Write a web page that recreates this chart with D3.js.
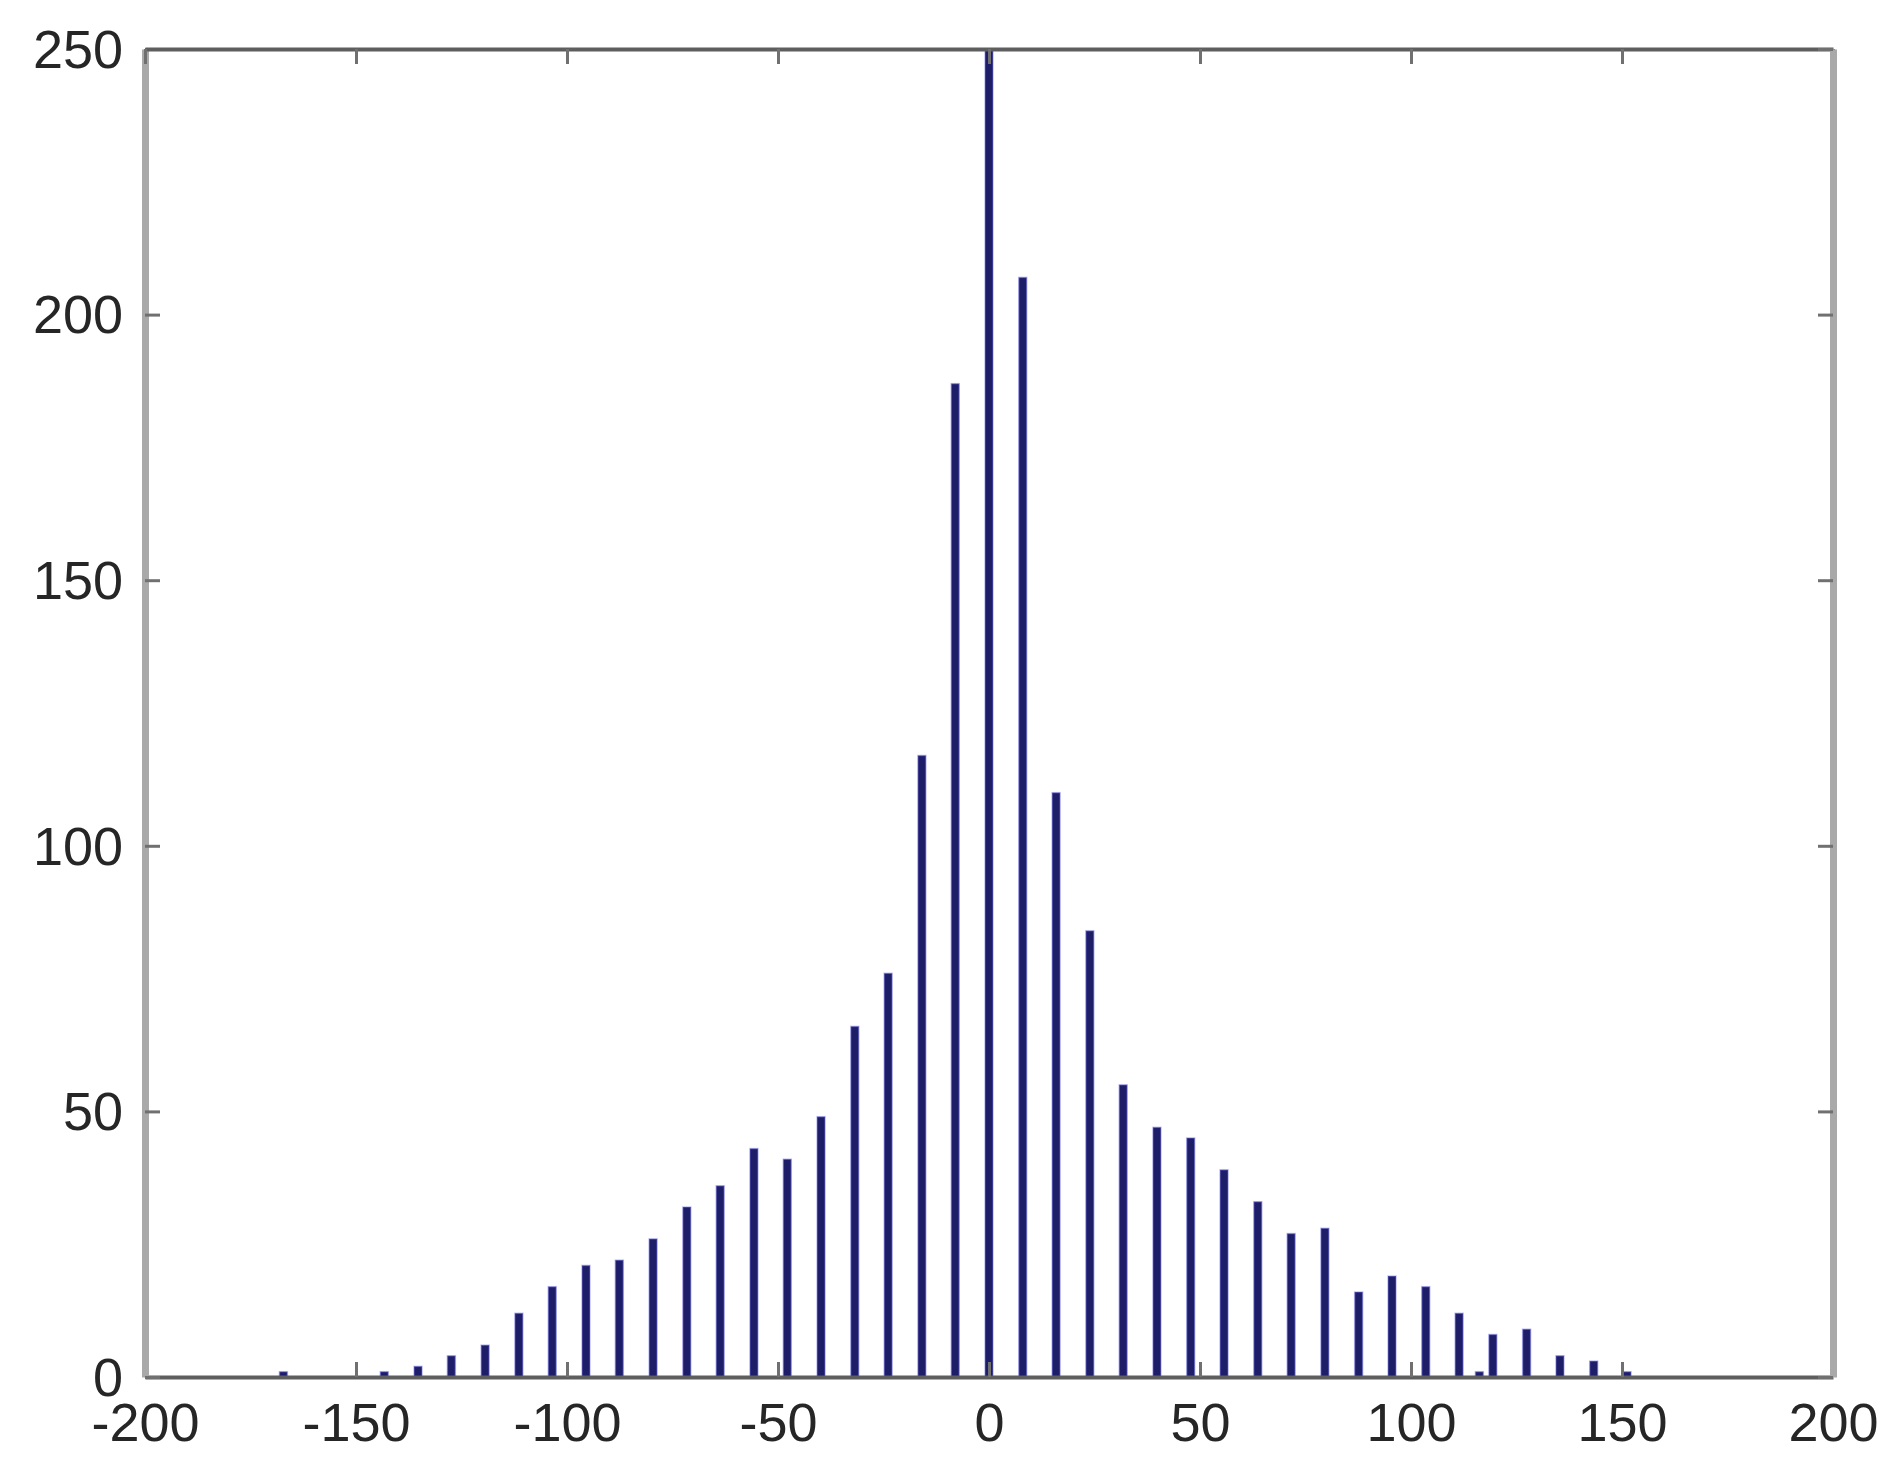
<!DOCTYPE html>
<html>
<head>
<meta charset="utf-8">
<script src="https://cdn.jsdelivr.net/npm/d3@7"></script>
<style>
  body { margin: 0; background: #fff; }
  text { font-family: "Liberation Sans", Arial, sans-serif; }
</style>
</head>
<body>
<svg></svg>
<script>
// Bin centres (spacing about 8, one odd bin near 116)
const binCenters = [-167.2, -143.3, -135.3, -127.4, -119.4, -111.4, -103.5, -95.5, -87.6, -79.6,
    -71.6, -63.7, -55.7, -47.8, -39.8, -31.8, -23.9, -15.9, -8.0, 0,
    8.0, 15.9, 23.9, 31.8, 39.8, 47.8, 55.7, 63.7, 71.6, 79.6,
    87.6, 95.5, 103.5, 111.4, 116.2, 119.4, 127.4, 135.3, 143.3, 151.2];
const counts = [1, 1, 2, 4, 6, 12, 17, 21, 22, 26,
    32, 36, 43, 41, 49, 66, 76, 117, 187, 262,
    207, 110, 84, 55, 47, 45, 39, 33, 27, 28,
    16, 19, 17, 12, 1, 8, 9, 4, 3, 1];
const xTicks = [-200, -150, -100, -50, 0, 50, 100, 150, 200];
const yTicks = [0, 50, 100, 150, 200, 250];

const bars = binCenters.map((c, i) => ({ x: c, n: counts[i] }));

// Plot box
const margin = { top: 49, right: 60, bottom: 93, left: 145 };
const W = 1893, H = 1470;
const width = W - margin.left - margin.right;
const height = H - margin.top - margin.bottom;

const svg = d3.select("svg")
    .attr("width", W)
    .attr("height", H);

svg.append("rect").attr("width", W).attr("height", H).attr("fill", "#fff");

const g = svg.append("g")
    .attr("transform", `translate(${margin.left},${margin.top})`);

const x = d3.scaleLinear().domain([-200, 200]).range([0, width]);
const y = d3.scaleLinear().domain([0, 250]).range([height, 0]).clamp(true);

// Bars
const barWidth = 8;
g.selectAll(".bar")
    .data(bars)
    .enter().append("rect")
    .attr("class", "bar")
    .attr("x", d => x(d.x) - barWidth / 2)
    .attr("y", d => y(d.n))
    .attr("width", barWidth)
    .attr("height", d => height - y(d.n))
    .attr("fill", "#1d1d68")
    .attr("stroke", "rgba(120,120,235,0.45)")
    .attr("stroke-width", 1.5);

const tickLen = 15;
const fontSize = 54;
const plain = d => String(d); // hyphen minus, like the original

function styleAxis(sel, lineColor, lineWidth) {
    sel.select(".domain").attr("stroke", lineColor).attr("stroke-width", lineWidth);
    sel.selectAll(".tick line").attr("stroke", "#707070").attr("stroke-width", 3);
    sel.selectAll(".tick text")
        .attr("fill", "#262626")
        .style("font-size", fontSize + "px");
}

// Bottom axis, ticks point inward
const xAxis = g.append("g")
    .attr("transform", `translate(0,${height})`)
    .call(d3.axisBottom(x).tickValues(xTicks).tickFormat(plain)
        .tickSizeInner(-tickLen).tickSizeOuter(0).tickPadding(26));
styleAxis(xAxis, "#5e5e5e", 4);

// Left axis
const yAxis = g.append("g")
    .call(d3.axisLeft(y).tickValues(yTicks).tickFormat(plain)
        .tickSizeInner(-tickLen).tickSizeOuter(0).tickPadding(22));
styleAxis(yAxis, "#a9a9a9", 7);
yAxis.selectAll(".tick text").attr("dy", "0.34em");

// Top and right box edges with inward ticks, no labels
const topAxis = g.append("g")
    .call(d3.axisTop(x).tickValues(xTicks).tickSizeInner(-tickLen).tickSizeOuter(0).tickFormat(""));
styleAxis(topAxis, "#5e5e5e", 4);

const rightAxis = g.append("g")
    .attr("transform", `translate(${width},0)`)
    .call(d3.axisRight(y).tickValues(yTicks).tickSizeInner(-tickLen).tickSizeOuter(0).tickFormat(""));
styleAxis(rightAxis, "#a9a9a9", 7);
</script>
</body>
</html>
